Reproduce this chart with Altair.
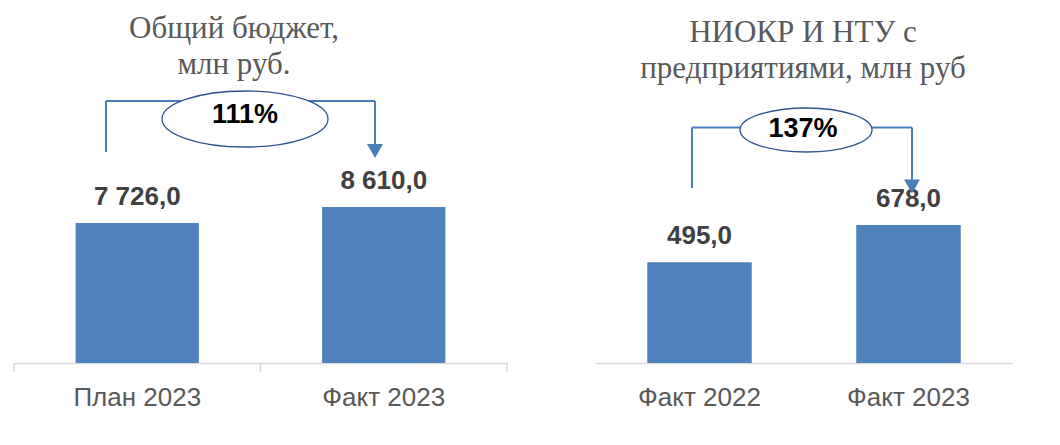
import altair as alt
import pandas as pd

# ---- data ----
left_title = ["Общий бюджет,", "млн руб."]
left_cats = ["План 2023", "Факт 2023"]
left_vals = [7726.0, 8610.0]

right_title = ["НИОКР И НТУ с", "предприятиями, млн руб"]
right_cats = ["Факт 2022", "Факт 2023"]
right_vals = [495.0, 678.0]


def fmt(v):
    return f"{v:,.1f}".replace(",", " ").replace(".", ",")


def pct(vals):
    return f"{round(100 * vals[1] / vals[0])}%"


BAR = "#4F81BD"
BRACKET = "#4A7EBB"
ELL_STROKE = "#2F528F"
AXIS = "#d9d9d9"
SANS = "Liberation Sans"
SERIF = "Liberation Serif"
H = 355
TICK = 9
one = alt.Data(values=[{}])


def panel(cats, vals, title, ymax, width, show_ticks, geo):
    df = pd.DataFrame({"cat": cats, "val": vals, "label": [fmt(v) for v in vals]})
    x = alt.X(
        "cat:N",
        sort=cats,
        scale=alt.Scale(paddingInner=0.5, paddingOuter=0.25),
        axis=alt.Axis(
            title=None,
            labelAngle=0,
            labelFont=SANS,
            labelFontSize=26,
            labelColor="#595959",
            labelPadding=12,
            ticks=True,
            tickSize=TICK,
            tickColor="transparent",
            domainColor=AXIS,
            domainWidth=1.5,
            grid=False,
        ),
    )
    y = alt.Y("val:Q", scale=alt.Scale(domain=[0, ymax]), axis=None)
    base = alt.Chart(df)
    bars = base.mark_bar(color=BAR).encode(x=x, y=y)
    labels = base.mark_text(
        font=SANS, fontSize=26, fontWeight="bold", color="#404040",
        baseline="alphabetic", dy=-18,
    ).encode(x=x, y=y, text="label:N")

    layers = [bars, labels]
    if show_ticks:
        # category-boundary ticks (axis decoration)
        for frac in (0.0, 0.5, 1.0):
            layers.append(
                alt.Chart(one).mark_rule(color=AXIS, strokeWidth=1.5).encode(
                    x=alt.value(width * frac), y=alt.value(H), y2=alt.value(H + TICK))
            )

    g = geo
    hline = alt.Chart(one).mark_rule(color=BRACKET, strokeWidth=2).encode(
        x=alt.value(g["x1"]), x2=alt.value(g["x2"]), y=alt.value(g["yh"]))
    vleft = alt.Chart(one).mark_rule(color=BRACKET, strokeWidth=2).encode(
        x=alt.value(g["x1"]), y=alt.value(g["yh"]), y2=alt.value(g["yl"]))
    vright = alt.Chart(one).mark_rule(color=BRACKET, strokeWidth=2).encode(
        x=alt.value(g["x2"]), y=alt.value(g["yh"]), y2=alt.value(g["ya"]))
    arrow = alt.Chart(one).mark_point(
        shape="M -1 -0.875 L 1 -0.875 L 0 0.875 Z", filled=True,
        color=BRACKET, opacity=1, size=256,
    ).encode(x=alt.value(g["x2"]), y=alt.value(g["ya"]))
    r = g["ery"] / g["erx"]
    ell = alt.Chart(one).mark_point(
        shape=f"M -1 0 A 1 {r:.4f} 0 1 0 1 0 A 1 {r:.4f} 0 1 0 -1 0 Z",
        filled=True, fill="white", stroke=ELL_STROKE, strokeWidth=1.3,
        opacity=1, fillOpacity=1, size=(2 * g["erx"]) ** 2,
    ).encode(x=alt.value(g["ex"]), y=alt.value(g["ey"]))
    ptxt = alt.Chart(one).mark_text(
        text=pct(vals), font=SANS, fontSize=27, fontWeight="bold",
        color="#000000", align="center", baseline="middle",
    ).encode(x=alt.value(g["tx"]), y=alt.value(g["ty"]))
    ttl = alt.Chart(one).mark_text(
        text=title, font=SERIF, fontSize=31, color="#595959",
        align="center", baseline="alphabetic", lineHeight=36,
    ).encode(x=alt.value(g["hx"]), y=alt.value(g["hy"]))
    layers += [hline, vleft, vright, arrow, ell, ptxt, ttl]
    return alt.layer(*layers).properties(width=width, height=H)


left = panel(left_cats, left_vals, left_title, 19600, 493, True,
             dict(x1=92, x2=361, yh=93, yl=144, ya=143,
                  ex=231, ey=111, erx=83, ery=28, tx=231, ty=107,
                  hx=220, hy=30))
right = panel(right_cats, right_vals, right_title, 1744, 418, False,
              dict(x1=97, x2=317, yh=119.5, yl=180, ya=178.5,
                   ex=211, ey=122, erx=66, ery=22, tx=208, ty=121,
                   hx=208, hy=34))

chart = alt.hconcat(left, right, spacing=87).properties(
    padding={"left": 5, "top": 0, "right": 0, "bottom": 0},
    background="white",
).configure_view(stroke="transparent", strokeWidth=0)

chart.save("out.html", embed_options={"renderer": "svg", "actions": False})
